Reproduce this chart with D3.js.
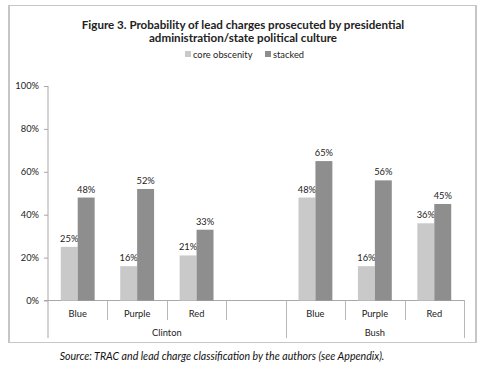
<!DOCTYPE html>
<html><head><meta charset="utf-8">
<script src="https://cdn.jsdelivr.net/npm/d3@7"></script>
<style>body{margin:0;background:#fff;}svg{display:block;}</style>
</head><body>
<script>
const groups = ["Clinton", "Bush"];
const slotGroup = ["Clinton", "Clinton", "Clinton", "Clinton", "Bush", "Bush", "Bush"];
const slotLabel = ["Blue", "Purple", "Red", "", "Blue", "Purple", "Red"];
const coreObscenity = [0.25, 0.16, 0.21, null, 0.48, 0.16, 0.36];
const stacked = [0.48, 0.52, 0.33, null, 0.65, 0.56, 0.45];
const yTicks = [0, 0.2, 0.4, 0.6, 0.8, 1.0];
const seriesNames = ["core obscenity", "stacked"];
const colors = ["#c9c9c9", "#8e8e8e"];

const W = 486, H = 376;
const font = "Lato, 'Open Sans', sans-serif";
const svg = d3.select("body").append("svg").attr("width", W).attr("height", H);

// chart frame
svg.append("rect").attr("x", 9.5).attr("y", 5.5).attr("width", 466.5).attr("height", 337)
  .attr("fill", "#fff").attr("stroke", "#c6c6c6").attr("stroke-width", 1);
svg.append("line").attr("x1", 9).attr("x2", 9).attr("y1", 5).attr("y2", 343).attr("stroke", "#c6c6c6").attr("stroke-width", 2);
svg.append("line").attr("x1", 476).attr("x2", 476).attr("y1", 5).attr("y2", 343).attr("stroke", "#c6c6c6").attr("stroke-width", 2);

// title
const title = svg.append("text").attr("text-anchor", "middle").attr("font-family", font)
  .attr("font-weight", "bold").attr("font-size", 11.6).attr("fill", "#222");
title.append("tspan").attr("x", 243).attr("y", 28.5).text("Figure 3. Probability of lead charges prosecuted by presidential");
title.append("tspan").attr("x", 243).attr("y", 41.5).text("administration/state political culture");

const x = d3.scaleBand().domain(d3.range(slotLabel.length)).range([48, 464]).paddingInner(0).paddingOuter(0);
const y = d3.scaleLinear().domain([0, 1]).range([300.5, 86]);
const barW = x.bandwidth() * 0.285;

// y axis
const yAxis = d3.axisLeft(y).tickValues(yTicks).tickFormat(d3.format(".0%")).tickSize(4).tickPadding(5);
const ga = svg.append("g").attr("transform", "translate(48,0)").call(yAxis);
ga.select(".domain").attr("stroke", "#a8a8a8").attr("d", "M0,86V338");
ga.selectAll(".tick line").attr("stroke", "#a8a8a8");
ga.selectAll(".tick text").attr("font-family", font).attr("font-size", 9.3).attr("fill", "#222");

// x axis baseline
svg.append("line").attr("x1", 44).attr("x2", 465).attr("y1", y(0)).attr("y2", y(0)).attr("stroke", "#a8a8a8");

// category dividers
slotLabel.forEach((lab, i) => {
  if (i === 0) return;
  const bx = Math.round(x(i)) + 0.5;
  const outer = slotGroup[i] !== slotGroup[i - 1];
  svg.append("line").attr("x1", bx).attr("x2", bx).attr("y1", y(0)).attr("y2", outer ? 338 : 320).attr("stroke", "#b8b8b8");
});
svg.append("line").attr("x1", 464.5).attr("x2", 464.5).attr("y1", y(0)).attr("y2", 338).attr("stroke", "#b8b8b8");

// category labels
svg.append("g").selectAll("text").data(slotLabel).join("text")
  .attr("x", (d, i) => x(i) + x.bandwidth() / 2).attr("y", 317).attr("text-anchor", "middle")
  .attr("font-family", font).attr("font-size", 9.3).attr("fill", "#222").text(d => d);

// group labels
groups.forEach(g => {
  const idx = slotGroup.map((s, i) => s === g ? i : -1).filter(i => i >= 0);
  const x0 = x(idx[0]), x1 = x(idx[idx.length - 1]) + x.bandwidth();
  svg.append("text").attr("x", (x0 + x1) / 2).attr("y", 336).attr("text-anchor", "middle")
    .attr("font-family", font).attr("font-size", 9.3).attr("fill", "#222").text(g);
});

// bars
const series = [coreObscenity, stacked];
series.forEach((vals, s) => {
  const g = svg.append("g");
  vals.forEach((v, i) => {
    if (v == null) return;
    const bx = x(i) + x.bandwidth() / 2 - barW + s * barW;
    g.append("rect").attr("x", bx).attr("y", y(v)).attr("width", barW).attr("height", y(0) - y(v)).attr("fill", colors[s]);
    g.append("text").attr("x", bx + barW / 2).attr("y", y(v) - 5).attr("text-anchor", "middle")
      .attr("font-family", font).attr("font-size", 9.3).attr("fill", "#222").text(d3.format(".0%")(v));
  });
});

// legend
const leg = svg.append("g");
const legX = [185, 265];
seriesNames.forEach((n, i) => {
  leg.append("rect").attr("x", legX[i]).attr("y", 51).attr("width", 6).attr("height", 6).attr("fill", colors[i]);
  leg.append("text").attr("x", legX[i] + 8).attr("y", 57.5).attr("font-family", font).attr("font-size", 9.3).attr("fill", "#222").text(n);
});

// source
svg.append("text").attr("x", 222).attr("y", 360).attr("text-anchor", "middle").attr("font-family", font)
  .attr("font-style", "italic").attr("font-size", 10.6).attr("fill", "#111")
  .text("Source: TRAC and lead charge classification by the authors (see Appendix).");
</script>
</body></html>
